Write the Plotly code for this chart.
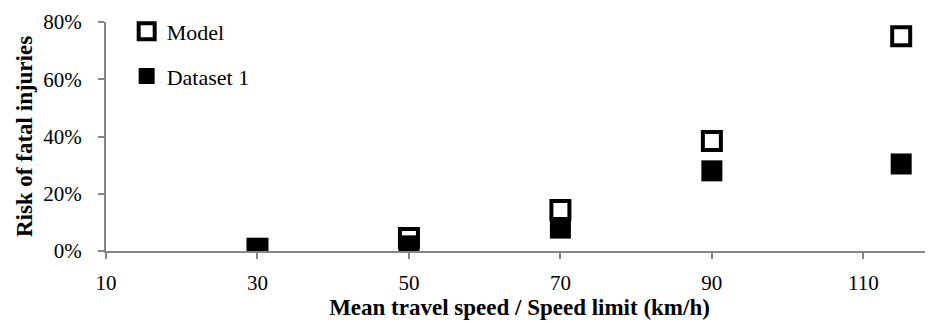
import plotly.graph_objects as go

speeds = [30, 50, 70, 90, 115]
model_risk = [0.008, 0.045, 0.143, 0.384, 0.75]
dataset1_risk = [0.009, 0.018, 0.08, 0.28, 0.304]
x_ticks = [10, 30, 50, 70, 90, 110]
y_ticks = [0, 0.2, 0.4, 0.6, 0.8]
y_tick_labels = ["0%", "20%", "40%", "60%", "80%"]

FONT = "Liberation Serif"

fig = go.Figure()
fig.add_trace(go.Scatter(
    x=speeds, y=model_risk, mode="markers", name="Model", legendgroup="m",
    marker=dict(symbol="square", size=18, color="white", line=dict(width=4, color="black")),
))
fig.add_trace(go.Scatter(
    x=speeds, y=dataset1_risk, mode="markers", name="Dataset 1", legendgroup="d",
    marker=dict(symbol="square", size=21, color="black", line=dict(width=0)),
))

fig.update_layout(
    width=925, height=315,
    margin=dict(l=98, r=0, t=14, b=72),
    plot_bgcolor="white", paper_bgcolor="white",
    font=dict(family=FONT, size=21, color="black"),
    showlegend=True,
    legend=dict(x=0.025, y=1.05, xanchor="left", yanchor="top",
                bgcolor="rgba(0,0,0,0)", font=dict(size=22, family=FONT),
                traceorder="grouped", tracegroupgap=13),
    xaxis=dict(
        range=[10, 119.2], tickvals=x_ticks, showgrid=False, zeroline=False,
        showline=True, linecolor="#868686", linewidth=2,
        ticks="outside", tickcolor="#868686", ticklen=6, tickwidth=1.5,
        tickfont=dict(size=21, family=FONT), ticklabelstandoff=6,
        automargin=True,
        title=dict(text="<b>Mean travel speed / Speed limit (km/h)</b>",
                   font=dict(size=23, family=FONT), standoff=5),
    ),
    yaxis=dict(
        range=[0, 0.8], tickvals=y_ticks, ticktext=y_tick_labels,
        showgrid=False, zeroline=False,
        showline=True, linecolor="#868686", linewidth=2,
        ticks="outside", tickcolor="#868686", ticklen=6, tickwidth=1.5,
        tickfont=dict(size=21, family=FONT), ticklabelstandoff=12,
        automargin=True,
        title=dict(text="<b>Risk of fatal injuries</b>",
                   font=dict(size=23, family=FONT), standoff=4),
    ),
)

fig.write_html("out.html")
